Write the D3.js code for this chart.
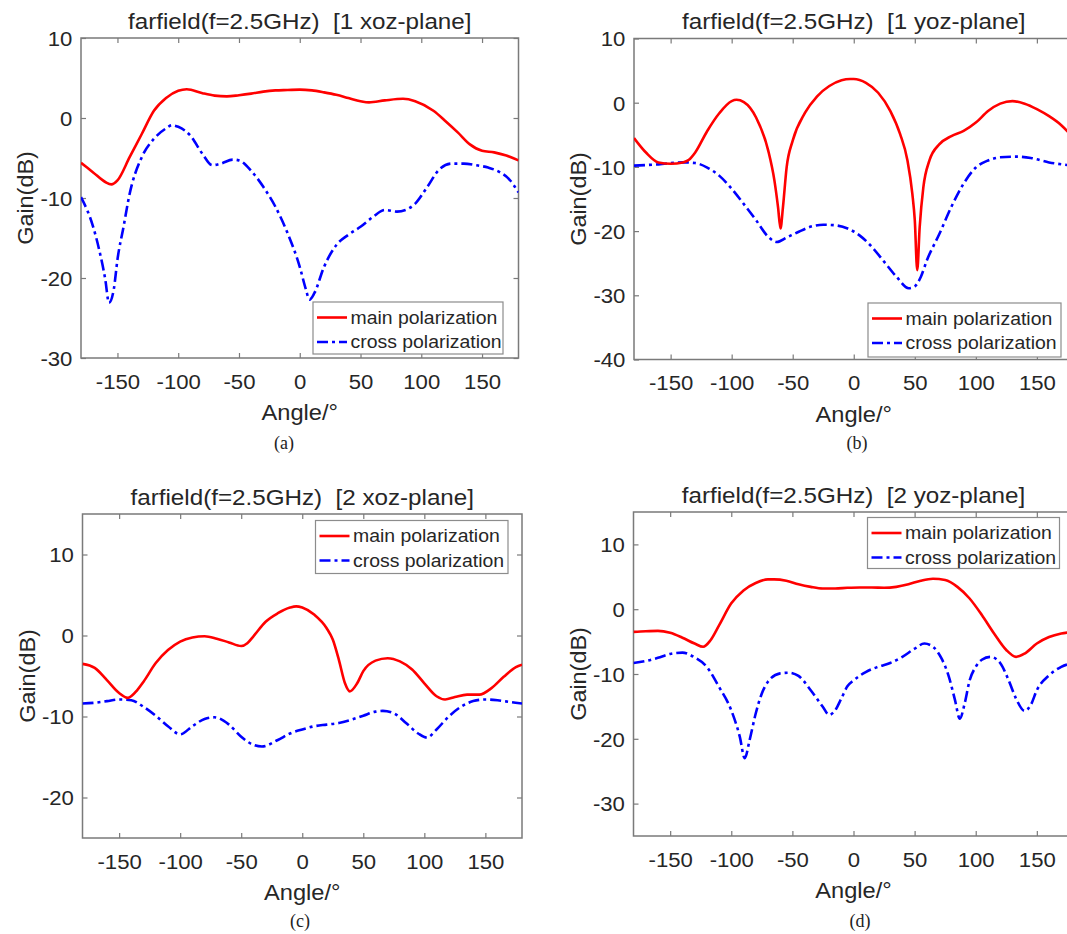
<!DOCTYPE html>
<html>
<head>
<meta charset="utf-8">
<script src="https://cdn.jsdelivr.net/npm/d3@7"></script>
<style>
  html, body { margin: 0; padding: 0; background: #fff; overflow: hidden; }
  svg { display: block; }
</style>
</head>
<body>
<svg id="fig" width="1067" height="934"></svg>
<script>
// ---- data: far-field gain (dB) versus angle (deg) at 2.5 GHz ----
const angleTicks = [-150, -100, -50, 0, 50, 100, 150];

const titles = [
  "farfield(f=2.5GHz)  [1 xoz-plane]",
  "farfield(f=2.5GHz)  [1 yoz-plane]",
  "farfield(f=2.5GHz)  [2 xoz-plane]",
  "farfield(f=2.5GHz)  [2 yoz-plane]"
];
const captions = ["(a)", "(b)", "(c)", "(d)"];
const seriesNames = ["main polarization", "cross polarization"];

const yTicksA = [-30, -20, -10, 0, 10];
const yTicksB = [-40, -30, -20, -10, 0, 10];
const yTicksC = [-20, -10, 0, 10];
const yTicksD = [-30, -20, -10, 0, 10];

// (a) port 1, xoz-plane
const aMainAngle = [-180,-170,-160,-155,-150,-140,-130,-120,-110,-100,-93,-80,-70,-60,-50,-40,-30,-20,-10,0,10,20,30,40,50,57,70,85,95,110,120,130,140,150,160,170,180];
const aMainGain  = [-5.6,-6.8,-8.0,-8.3,-7.8,-4.9,-2.0,0.9,2.5,3.4,3.6,3.1,2.8,2.7,2.85,3.05,3.3,3.45,3.5,3.55,3.45,3.2,2.9,2.5,2.1,1.95,2.2,2.4,2.1,0.9,-0.4,-1.8,-3.3,-4.1,-4.3,-4.7,-5.3];
const aCrossAngle = [-180,-170,-165,-160,-157,-153,-150,-145,-140,-130,-120,-110,-105,-100,-90,-80,-72,-65,-55,-50,-40,-30,-20,-10,0,5,8,12,20,30,40,50,60,70,80,87,95,105,115,125,135,145,155,165,172,180];
const aCrossGain  = [-9.9,-13.6,-16.5,-20.2,-23.1,-21.4,-17.7,-13.6,-9.5,-4.9,-2.6,-1.3,-0.9,-1.1,-2.2,-4.5,-5.9,-5.7,-5.2,-5.3,-6.6,-8.6,-11.1,-14.4,-18.6,-21.4,-22.7,-21.9,-18.6,-15.9,-14.6,-13.6,-12.4,-11.5,-11.7,-11.5,-10.7,-8.6,-6.4,-5.7,-5.7,-5.9,-6.2,-6.8,-7.6,-9.3];

// (b) port 1, yoz-plane
const bMainAngle = [-180,-170,-160,-150,-140,-135,-130,-120,-110,-100,-96,-90,-80,-70,-65,-62,-60,-58,-55,-50,-40,-30,-20,-10,-3,0,10,20,30,38,44,48,50,52,54,57,62,70,80,90,100,110,120,130,140,150,160,170,180];
const bMainGain  = [-5.5,-7.8,-9.3,-9.5,-9.3,-8.9,-7.8,-4.4,-1.6,0.25,0.45,0.1,-2.3,-7.5,-12.1,-16.3,-19.6,-16.3,-10.1,-5.9,-1.6,1.0,2.6,3.5,3.7,3.7,3.1,1.55,-1.3,-4.9,-9.0,-14.2,-18.3,-26.1,-19.4,-13.2,-9.0,-6.5,-5.2,-4.4,-3.1,-1.3,-0.15,0.25,-0.15,-1.0,-2.1,-3.5,-5.5];
const bCrossAngle = [-180,-160,-140,-130,-120,-110,-100,-90,-80,-70,-63,-55,-45,-35,-25,-15,-5,5,15,25,35,45,50,55,60,70,80,90,100,110,120,133,145,160,180];
const bCrossGain  = [-9.8,-9.6,-9.3,-9.4,-10.1,-11.4,-13.4,-15.8,-18.3,-20.9,-21.7,-21.0,-20.1,-19.3,-19.0,-19.1,-19.6,-20.7,-22.5,-24.8,-27.1,-28.9,-28.6,-27.1,-24.5,-20.5,-16.2,-12.6,-10.1,-9.0,-8.5,-8.4,-8.6,-9.3,-9.8];

// (c) port 2, xoz-plane
const cMainAngle = [-180,-170,-160,-150,-143,-135,-130,-120,-110,-100,-90,-80,-70,-60,-50,-45,-40,-30,-20,-10,-5,0,10,20,25,30,35,39,45,50,60,70,80,90,100,110,117,125,135,145,155,165,175,180];
const cMainGain  = [-3.5,-4.0,-5.5,-7.1,-7.7,-6.7,-5.7,-3.4,-1.8,-0.75,-0.25,-0.1,-0.4,-0.85,-1.3,-0.95,-0.1,1.7,2.75,3.45,3.6,3.45,2.55,0.9,-0.5,-3.0,-5.9,-6.9,-5.9,-4.4,-3.1,-2.8,-3.2,-4.2,-5.9,-7.5,-7.9,-7.6,-7.3,-7.3,-6.5,-5.1,-3.9,-3.6];
const cCrossAngle = [-180,-170,-160,-150,-140,-130,-120,-110,-100,-90,-80,-72,-60,-50,-40,-33,-20,-10,0,10,20,30,40,50,60,66,75,85,95,102,110,120,130,140,150,160,170,180];
const cCrossGain  = [-8.4,-8.3,-8.1,-7.9,-8.0,-8.8,-9.9,-11.2,-12.2,-11.2,-10.3,-10.1,-11.0,-12.5,-13.5,-13.7,-12.9,-12.1,-11.6,-11.2,-11.0,-10.8,-10.4,-9.9,-9.4,-9.3,-9.6,-10.8,-12.1,-12.6,-11.6,-10.0,-8.8,-8.1,-7.9,-8.0,-8.2,-8.4];

// (d) port 2, yoz-plane
const dMainAngle = [-180,-170,-160,-150,-140,-130,-123,-117,-110,-100,-90,-80,-70,-65,-55,-45,-35,-25,-15,-5,5,15,25,35,45,55,65,75,85,95,105,115,125,133,140,150,160,170,180];
const dMainGain  = [-3.5,-3.4,-3.35,-3.65,-4.4,-5.3,-5.8,-4.8,-2.5,0.9,2.9,4.05,4.6,4.6,4.4,3.85,3.45,3.2,3.2,3.3,3.35,3.35,3.3,3.45,3.85,4.4,4.7,4.5,3.45,1.65,-0.9,-3.75,-6.3,-7.35,-6.85,-5.3,-4.3,-3.75,-3.5];
const dCrossAngle = [-180,-170,-160,-150,-140,-130,-120,-110,-100,-93,-89,-85,-80,-75,-70,-60,-53,-45,-35,-25,-20,-15,-10,-5,0,10,20,30,40,50,58,65,72,78,83,87,91,95,100,105,112,120,127,133,140,145,150,160,170,180];
const dCrossGain  = [-8.3,-8.0,-7.5,-6.9,-6.7,-7.45,-8.9,-12.0,-15.6,-19.7,-23.0,-20.2,-16.1,-13.0,-11.2,-9.9,-9.8,-10.3,-12.5,-15.1,-16.3,-15.6,-13.8,-11.9,-11.0,-9.7,-8.9,-8.3,-7.35,-6.1,-5.3,-5.8,-7.6,-10.4,-14.0,-16.9,-14.5,-11.0,-8.9,-7.8,-7.35,-8.3,-11.0,-13.8,-15.7,-14.8,-12.5,-10.2,-8.9,-8.3];

// ---- layout of the four axes ----
const panels = [
  { x0: 81,  x1: 518.5, y0: 38,  y1: 358,   yDomain: [-30, 10], yTicks: yTicksA,
    main: [aMainAngle, aMainGain], cross: [aCrossAngle, aCrossGain],
    legend: { x: 313, y: 302, w: 190, h: 52 }, cap: [284, 449] },
  { x0: 634, x1: 1073.5, y0: 38.5, y1: 359.5, yDomain: [-40, 10], yTicks: yTicksB,
    main: [bMainAngle, bMainGain], cross: [bCrossAngle, bCrossGain],
    legend: { x: 868, y: 303, w: 193, h: 54 }, cap: [857, 449] },
  { x0: 82.5, x1: 522, y0: 514, y1: 838, yDomain: [-25, 15], yTicks: yTicksC,
    main: [cMainAngle, cMainGain], cross: [cCrossAngle, cCrossGain],
    legend: { x: 315.5, y: 520.5, w: 192.5, h: 53 }, cap: [300, 927] },
  { x0: 633.5, x1: 1073.5, y0: 512, y1: 836, yDomain: [-35, 15], yTicks: yTicksD,
    main: [dMainAngle, dMainGain], cross: [dCrossAngle, dCrossGain],
    legend: { x: 867.5, y: 517.5, w: 192, h: 51 }, cap: [860, 927] }
];

const TEXT = "#262626";
const AXIS = "#7a7a7a";
const FONT = "'Liberation Sans', Arial, Helvetica, sans-serif";
const RED = "#ff0000", BLUE = "#0000ff";
const DASH = "11,4,3,4";

const svg = d3.select("#fig");
svg.append("rect").attr("width", 1067).attr("height", 934).attr("fill", "#fff");

panels.forEach((p, i) => {
  const x = d3.scaleLinear().domain([-180, 180]).range([p.x0, p.x1]);
  const y = d3.scaleLinear().domain(p.yDomain).range([p.y1, p.y0]);
  const g = svg.append("g");

  const clipId = "clip" + i;
  svg.append("defs").append("clipPath").attr("id", clipId)
    .append("rect").attr("x", p.x0).attr("y", p.y0)
    .attr("width", p.x1 - p.x0).attr("height", p.y1 - p.y0);

  const fmt = d => String(d);

  // bottom axis with labels, ticks pointing inward
  const gb = g.append("g").attr("transform", `translate(0,${p.y1})`)
    .call(d3.axisBottom(x).tickValues(angleTicks).tickSize(-5).tickFormat(fmt));
  gb.selectAll("text").attr("y", 31).attr("dy", null)
    .attr("transform", "scale(1.08,1)");
  // top axis ticks only
  const gt = g.append("g").attr("transform", `translate(0,${p.y0})`)
    .call(d3.axisTop(x).tickValues(angleTicks).tickSize(-5).tickFormat(""));
  // left axis with labels
  const gl = g.append("g").attr("transform", `translate(${p.x0},0)`)
    .call(d3.axisLeft(y).tickValues(p.yTicks).tickSize(-5).tickPadding(8).tickFormat(fmt));
  gl.selectAll("text").attr("dy", "0.36em").attr("transform", "scale(1.08,1)");
  // right axis ticks only
  const gr = g.append("g").attr("transform", `translate(${p.x1},0)`)
    .call(d3.axisRight(y).tickValues(p.yTicks).tickSize(-5).tickFormat(""));

  [gb, gt, gl, gr].forEach(a => {
    a.select(".domain").remove();
    a.selectAll("line").attr("stroke", AXIS).attr("stroke-width", 1.2);
    a.selectAll("text").attr("fill", TEXT).style("font-family", FONT).style("font-size", "20.5px");
  });

  // box
  g.append("rect").attr("x", p.x0).attr("y", p.y0)
    .attr("width", p.x1 - p.x0).attr("height", p.y1 - p.y0)
    .attr("fill", "none").attr("stroke", AXIS).attr("stroke-width", 1.5);

  // curves
  const line = d3.line().curve(d3.curveMonotoneX)
    .x(d => x(d[0])).y(d => y(d[1]));
  const pts = s => s[0].map((a, k) => [a, s[1][k]]);
  const plot = g.append("g").attr("clip-path", `url(#${clipId})`);
  plot.append("path").datum(pts(p.cross)).attr("d", line)
    .attr("fill", "none").attr("stroke", BLUE).attr("stroke-width", 2.6)
    .attr("stroke-dasharray", DASH);
  plot.append("path").datum(pts(p.main)).attr("d", line)
    .attr("fill", "none").attr("stroke", RED).attr("stroke-width", 2.6);

  // title
  const cx = (p.x0 + p.x1) / 2;
  g.append("text").text(titles[i])
    .attr("transform", `translate(${cx},${p.y0 - 9.5}) scale(1.1,1)`)
    .attr("text-anchor", "middle").style("white-space", "pre")
    .style("font-family", FONT).style("font-size", "22px").attr("fill", TEXT);

  // axis labels
  g.append("text").text("Angle/°")
    .attr("transform", `translate(${cx},${p.y1 + 62}) scale(1.1,1)`)
    .attr("text-anchor", "middle")
    .style("font-family", FONT).style("font-size", "21.5px").attr("fill", TEXT);
  g.append("text").text("Gain(dB)")
    .attr("transform", `translate(${p.x0 - 48},${(p.y0 + p.y1) / 2}) rotate(-90) scale(1.04,1)`)
    .attr("text-anchor", "middle")
    .style("font-family", FONT).style("font-size", "22.5px").attr("fill", TEXT);

  // legend
  const L = p.legend;
  const lg = g.append("g");
  lg.append("rect").attr("x", L.x).attr("y", L.y).attr("width", L.w).attr("height", L.h)
    .attr("fill", "#fff").attr("stroke", "#8c8c8c").attr("stroke-width", 1.2);
  const rows = [
    { name: seriesNames[0], color: RED, dash: null },
    { name: seriesNames[1], color: BLUE, dash: DASH }
  ];
  rows.forEach((r, k) => {
    const ry = L.y + 15.5 + k * 24.5;
    lg.append("line").attr("x1", L.x + 4).attr("x2", L.x + 34)
      .attr("y1", ry).attr("y2", ry)
      .attr("stroke", r.color).attr("stroke-width", 2.6)
      .attr("stroke-dasharray", r.dash);
    lg.append("text").text(r.name)
      .attr("transform", `translate(${L.x + 37.5},${ry}) scale(1.05,1)`)
      .attr("dy", "0.35em")
      .style("font-family", FONT).style("font-size", "18.5px").attr("fill", TEXT);
  });

  // sub-figure caption
  svg.append("text").text(captions[i])
    .attr("x", p.cap[0]).attr("y", p.cap[1])
    .attr("text-anchor", "middle")
    .style("font-family", "'Liberation Serif', 'Times New Roman', serif")
    .style("font-size", "18px").attr("fill", "#222");
});
</script>
</body>
</html>
